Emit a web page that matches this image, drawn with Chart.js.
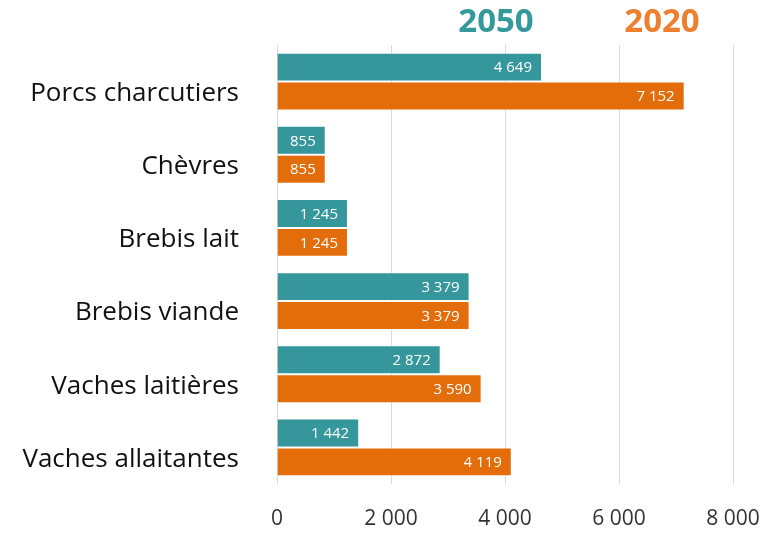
<!DOCTYPE html>
<html><head><meta charset="utf-8">
<script src="https://cdn.jsdelivr.net/npm/chart.js@4/dist/chart.umd.min.js"></script>
<style>html,body{margin:0;padding:0;background:#fff}#wrap{width:769px;height:533px}</style>
</head><body><div id="wrap"><canvas id="c" width="769" height="533"></canvas></div>
<script>
const categories = ["Porcs charcutiers","Chèvres","Brebis lait","Brebis viande","Vaches laitières","Vaches allaitantes"];
const series2050 = [4649, 855, 1245, 3379, 2872, 1442];
const series2020 = [7152, 855, 1245, 3379, 3590, 4119];
const seriesLabels = ["2050","2020"];
const xTicks = [0, 2000, 4000, 6000, 8000];

const FONT = "'Open Sans', 'Noto Sans', sans-serif";
const fmt = v => String(v).replace(/\B(?=(\d{3})+(?!\d))/g, " ");

const labelPlugin = {
  id: 'vlabels',
  afterDatasetsDraw(chart) {
    const ctx = chart.ctx;
    ctx.save();
    ctx.font = "15px " + FONT;
    ctx.fillStyle = "#fff";
    ctx.textAlign = "right";
    ctx.textBaseline = "middle";
    chart.data.datasets.forEach((ds, i) => {
      chart.getDatasetMeta(i).data.forEach((bar, j) => {
        ctx.fillText(fmt(ds.data[j]), bar.x - 10, bar.y + 1);
      });
    });
    ctx.restore();
  }
};
const legendPlugin = {
  id: 'toplegend',
  afterDraw(chart) {
    const ctx = chart.ctx;
    ctx.save();
    ctx.font = "bold 33px " + FONT;
    ctx.textAlign = "center";
    ctx.textBaseline = "middle";
    const pos = [496, 662];
    chart.data.datasets.forEach((ds, i) => {
      ctx.fillStyle = ds.legendColor;
      ctx.fillText(ds.label, pos[i], 23);
    });
    ctx.restore();
  }
};

new Chart(document.getElementById('c'), {
  type: 'bar',
  data: {
    labels: categories,
    datasets: [
      {label: seriesLabels[0], data: series2050, backgroundColor: '#35969C', borderColor: 'rgba(255,255,255,0.55)', borderWidth: 1, legendColor: '#34999B'},
      {label: seriesLabels[1], data: series2020, backgroundColor: '#E36C0B', borderColor: 'rgba(255,255,255,0.55)', borderWidth: 1, legendColor: '#EE7F2F'}
    ]
  },
  options: {
    indexAxis: 'y',
    responsive: false,
    animation: false,
    layout: {padding: {top: 45, right: 36, bottom: 0, left: 0}},
    plugins: {legend: {display: false}, tooltip: {enabled: false}},
    datasets: {bar: {categoryPercentage: 0.79, barPercentage: 1.0}},
    scales: {
      x: {
        min: 0, max: 8000,
        afterBuildTicks: s => { s.ticks = xTicks.map(v => ({value: v})); },
        afterFit: s => { s.height = 49; s.paddingLeft = 0; s.paddingRight = 0; },
        grid: {color: '#d9d9d9', lineWidth: 1, drawTicks: false},
        border: {display: false},
        ticks: {font: {family: FONT, size: 21}, color: '#333', padding: 22, callback: v => fmt(v)}
      },
      y: {
        grid: {display: false},
        border: {display: false},
        afterFit: s => { s.width = 277; s.paddingTop = 0; s.paddingBottom = 0; },
        ticks: {font: {family: FONT, size: 26}, color: '#111', padding: 30, labelOffset: 12}
      }
    }
  },
  plugins: [labelPlugin, legendPlugin]
});
</script></body></html>
